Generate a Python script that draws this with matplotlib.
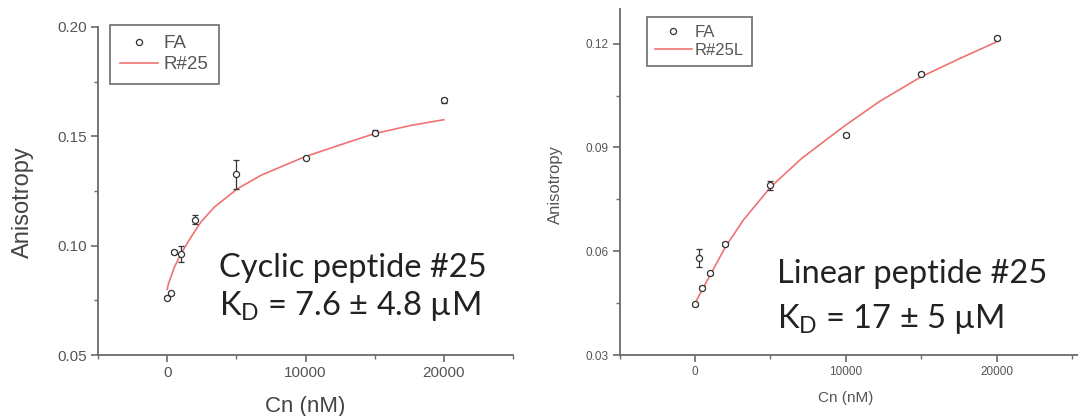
import matplotlib
matplotlib.use('Agg')
import matplotlib.pyplot as plt
from matplotlib.ticker import MultipleLocator, FormatStrFormatter

# cyclic peptide #25 (left panel)
cyc_conc = [0, 250, 500, 1000, 2000, 5000, 10000, 15000, 20000]
cyc_aniso = [0.0762, 0.0782, 0.0970, 0.0961, 0.1118, 0.1327, 0.1402, 0.1517, 0.1664]
cyc_err = [0.0008, 0.0008, 0.0010, 0.0037, 0.0020, 0.0066, 0.0005, 0.0012, 0.0012]
cyc_fit_x = [0, 100, 530, 1010, 1730, 2450, 3420, 5100, 6790, 9920, 12800, 14970, 17620, 20000]
cyc_fit_y = [0.0800, 0.0827, 0.0903, 0.0964, 0.1040, 0.1109, 0.1177, 0.1261, 0.1322,
             0.1406, 0.1467, 0.1512, 0.1550, 0.1576]

# linear peptide #25 (right panel)
lin_conc = [0, 250, 500, 1000, 2000, 5000, 10000, 15000, 20000]
lin_aniso = [0.0447, 0.0580, 0.0495, 0.0536, 0.0621, 0.0790, 0.0936, 0.1113, 0.1216]
lin_err = [0.0004, 0.0027, 0.0004, 0.0005, 0.0005, 0.0012, 0.0005, 0.0005, 0.0005]
lin_fit_x = [0, 535, 1070, 2030, 3210, 5030, 7070, 9850, 12210, 14990, 17560, 20000]
lin_fit_y = [0.0449, 0.0493, 0.0536, 0.0613, 0.0690, 0.0786, 0.0868, 0.0960, 0.1032,
             0.1104, 0.1157, 0.1205]

plt.rcParams['font.family'] = ['Liberation Sans', 'DejaVu Sans']
plt.rcParams['mathtext.fontset'] = 'custom'
plt.rcParams['mathtext.rm'] = 'Lato'

AX_COL = '#6a6a6a'
TXT_COL = '#555555'
FIT_COL = '#f07272'
PT_COL = '#333333'
NOTE_FS = 23.5

fig = plt.figure(figsize=(10.78, 4.16), dpi=100)
ax1 = fig.add_axes([0.0909, 0.1466, 0.385, 0.7885])
ax2 = fig.add_axes([0.5747, 0.1466, 0.4253, 0.8317])


def style_axes(ax, tick_fs, ymajor, yminor):
    for s in ['top', 'right']:
        ax.spines[s].set_visible(False)
    for s in ['left', 'bottom']:
        ax.spines[s].set_color(AX_COL)
        ax.spines[s].set_linewidth(1.3)
    ax.xaxis.set_major_locator(MultipleLocator(10000))
    ax.xaxis.set_minor_locator(MultipleLocator(5000))
    ax.yaxis.set_major_locator(MultipleLocator(ymajor))
    ax.yaxis.set_minor_locator(MultipleLocator(yminor))
    ax.yaxis.set_major_formatter(FormatStrFormatter('%.2f'))
    ax.tick_params(which='major', direction='out', length=5, width=1.2, color=AX_COL,
                   labelsize=tick_fs, labelcolor=TXT_COL, pad=3)
    ax.tick_params(which='minor', direction='out', length=3, width=1.0, color=AX_COL)


def draw(ax, conc, aniso, err, fit_x, fit_y, fit_label):
    fit, = ax.plot(fit_x, fit_y, color=FIT_COL, lw=1.2, zorder=2)
    ax.errorbar(conc, aniso, yerr=err, fmt='none', ecolor=PT_COL, elinewidth=0.9,
                capsize=2, capthick=0.9, zorder=3)
    pts, = ax.plot(conc, aniso, 'o', ms=4.4, mfc='white', mec=PT_COL, mew=0.9, zorder=4)
    fit.set_label(fit_label)
    pts.set_label('FA')
    return pts, fit


def style_legend(leg):
    leg.get_frame().set_edgecolor('#555555')
    leg.get_frame().set_linewidth(1.3)
    for t in leg.get_texts():
        t.set_color(TXT_COL)


# left panel
p1, f1 = draw(ax1, cyc_conc, cyc_aniso, cyc_err, cyc_fit_x, cyc_fit_y, 'R#25')
ax1.set_xlim(-5000, 25000)
ax1.set_ylim(0.05, 0.20)
style_axes(ax1, 11, 0.05, 0.025)
leg1 = ax1.legend(handles=[p1, f1], loc='upper left', bbox_to_anchor=(0.029, 1.006),
                  borderaxespad=0, fancybox=False, fontsize=13.5, handlelength=2.0,
                  handletextpad=0.3, borderpad=0.55, labelspacing=0.2, frameon=True)
style_legend(leg1)

ax1.text(3755, 0.0858, 'Cyclic peptide #25', fontsize=NOTE_FS, family='Lato', color='#222222',
         va='baseline', ha='left')
ax1.text(3755, 0.0683, r'K$_{\mathregular{D}}$ = 7.6 ± 4.8 µM', fontsize=NOTE_FS,
         family='Lato', color='#222222', va='baseline', ha='left')

fig.text(23 / 1078, 1 - 202 / 416, 'Anisotropy', rotation=90, fontsize=17, color='#444444',
         ha='center', va='center')
fig.text(305 / 1078, 1 - 396 / 416, 'Cn (nM)', fontsize=16, color='#444444',
         ha='center', va='top')

# right panel
p2, f2 = draw(ax2, lin_conc, lin_aniso, lin_err, lin_fit_x, lin_fit_y, 'R#25L')
ax2.set_xlim(-5000, 25400)
ax2.set_ylim(0.03, 0.13)
style_axes(ax2, 8.5, 0.03, 0.015)
leg2 = ax2.legend(handles=[p2, f2], loc='upper left', bbox_to_anchor=(0.059, 0.977),
                  borderaxespad=0, fancybox=False, fontsize=12, handlelength=2.2,
                  handletextpad=0.2, borderpad=0.5, labelspacing=0.15, frameon=True)
style_legend(leg2)

ax2.text(5460, 0.0507, 'Linear peptide #25', fontsize=NOTE_FS, family='Lato', color='#222222',
         va='baseline', ha='left')
ax2.text(5460, 0.0377, r'K$_{\mathregular{D}}$ = 17 ± 5 µM', fontsize=NOTE_FS, family='Lato',
         color='#222222', va='baseline', ha='left')

fig.text(555 / 1078, 1 - 185 / 416, 'Anisotropy', rotation=90, fontsize=12, color='#555555',
         ha='center', va='center')
fig.text(846 / 1078, 1 - 391 / 416, 'Cn (nM)', fontsize=11, color='#555555',
         ha='center', va='top')

fig.savefig('out.png', dpi=100)
